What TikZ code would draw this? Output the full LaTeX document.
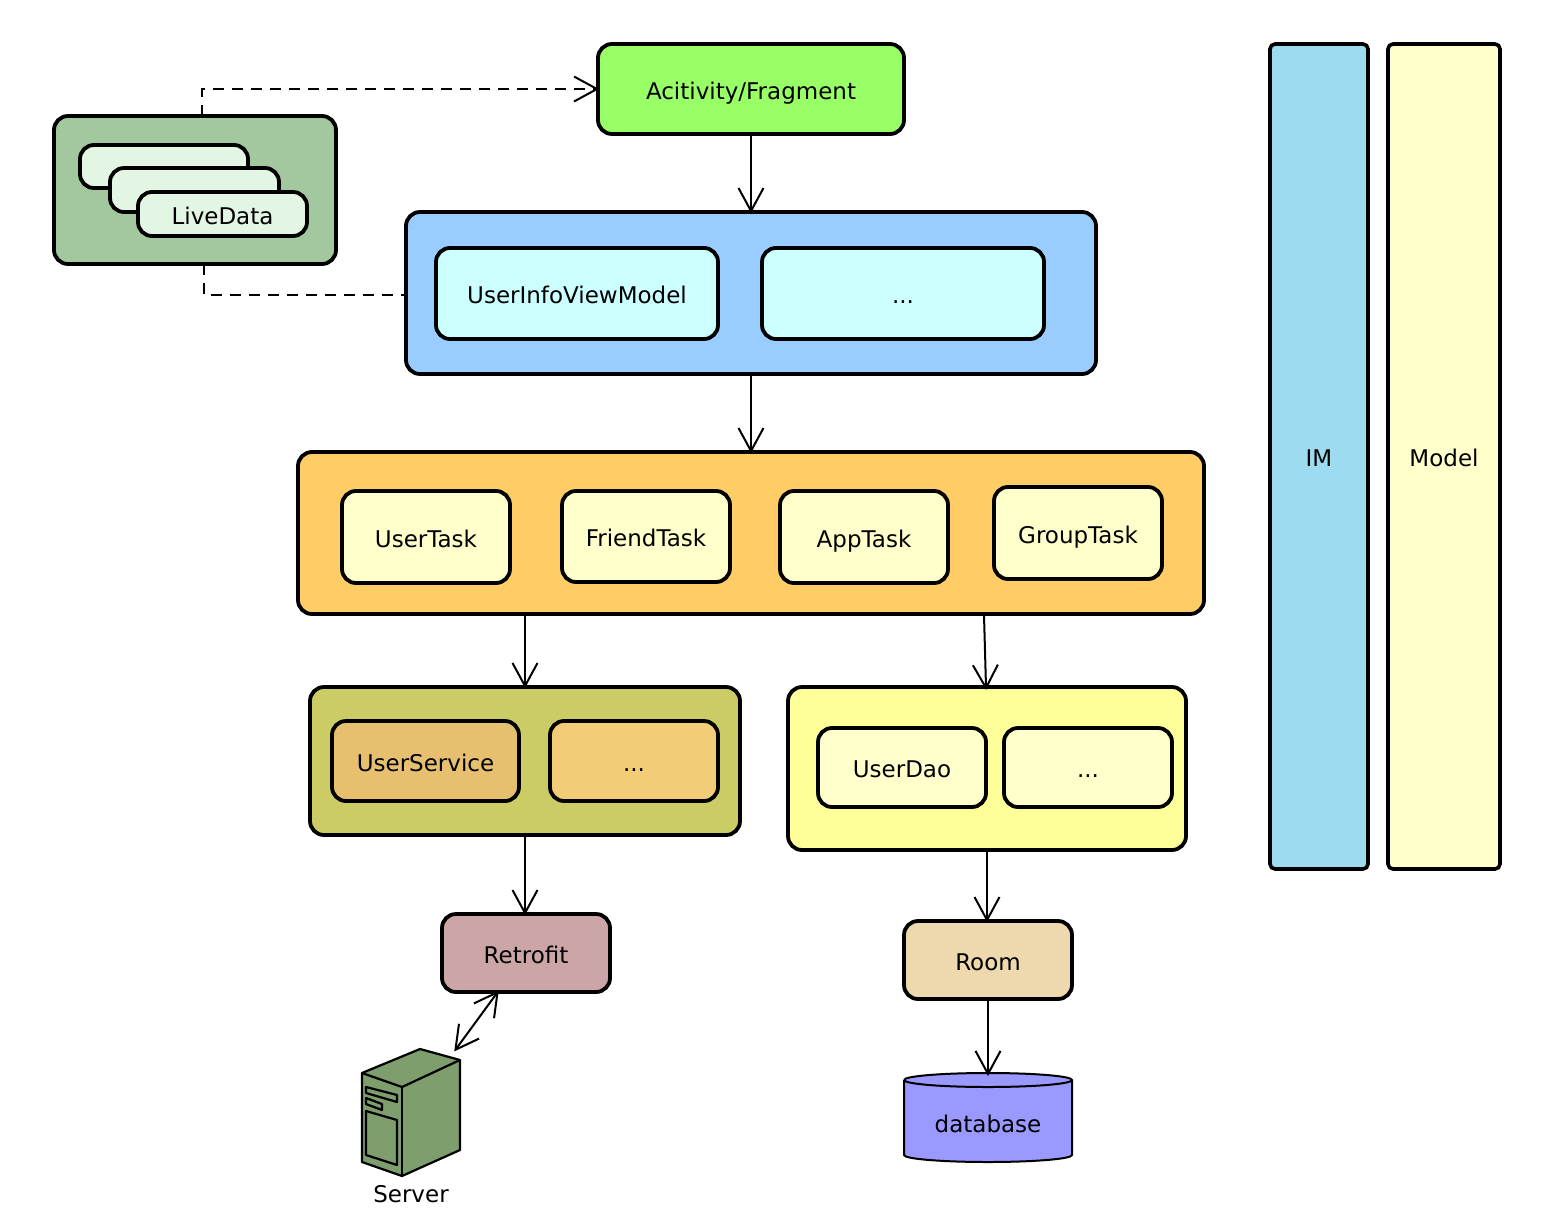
\documentclass[tikz,border=0pt]{standalone}
\usepackage{fontspec}
\setmainfont{DejaVu Sans}
\usetikzlibrary{arrows.meta,calc}
\definecolor{cAct}{HTML}{99FF66}
\definecolor{cLdO}{HTML}{A3C8A0}
\definecolor{cLdI}{HTML}{E3F5E3}
\definecolor{cVmO}{HTML}{99CCFF}
\definecolor{cVmI}{HTML}{CCFFFF}
\definecolor{cTask}{HTML}{FFCC66}
\definecolor{cPale}{HTML}{FFFFCC}
\definecolor{cSvcO}{HTML}{CCCC66}
\definecolor{cSvcA}{HTML}{E6C06F}
\definecolor{cSvcB}{HTML}{F3CC78}
\definecolor{cDao}{HTML}{FFFF99}
\definecolor{cRetro}{HTML}{CCA6A6}
\definecolor{cRoom}{HTML}{EED9AF}
\definecolor{cDb}{HTML}{9999FF}
\definecolor{cIm}{HTML}{9DDBF0}
\definecolor{cSrv}{HTML}{7E9E6E}
\newcommand{\lbl}{\fontsize{23}{27}\selectfont}
\tikzset{
  bx/.style={draw=black,line width=3.8pt,rounded corners=14pt,inner sep=0pt,font=\lbl,text=black,text height=23pt,text depth=3pt},
  bar/.style={draw=black,line width=3.6pt,rounded corners=5pt,inner sep=0pt,font=\lbl,text=black},
  conn/.style={draw=black,line width=2pt,shorten >=-3pt,-{Straight Barb[length=23pt,width=25pt,line width=2pt]}},
  conntwo/.style={draw=black,line width=2pt,shorten >=-3pt,shorten <=-3pt,{Straight Barb[length=23pt,width=25pt,line width=2pt]}-{Straight Barb[length=23pt,width=25pt,line width=2pt]}},
  dep/.style={draw=black,line width=2pt,dash pattern=on 11pt off 8pt},
  depa/.style={dep,shorten >=-3pt,-{Straight Barb[length=23pt,width=25pt,line width=2pt]}},
  srv/.style={draw=black,line width=2.2pt,line join=round},
}
% \pbox[style]{name}{x0}{y0}{x1}{y1}{fill}{text}
\newcommand{\pbox}[8][bx]{%
  \node[#1,fill=#7,minimum width={#5-#3},minimum height={#6-#4}] (#2) at ({(#3+#5)/2},{-(#4+#6)/2}) {#8};}
\begin{document}
\begin{tikzpicture}[x=1pt,y=1pt]
\useasboundingbox (0,0) rectangle (1544,-1218);
\pbox{act}{598}{44}{904}{134}{cAct}{Acitivity/Fragment}
\pbox{ld}{54}{116}{336}{264}{cLdO}{}
\pbox{ldA}{80}{145}{248}{188}{cLdI}{}
\pbox{ldB}{110}{168}{279}{212}{cLdI}{}
\pbox{ldC}{138}{192}{307}{236}{cLdI}{LiveData}
\pbox{vm}{406}{212}{1096}{374}{cVmO}{}
\pbox{uivm}{436}{248}{718}{339}{cVmI}{UserInfoViewModel}
\pbox{vmx}{762}{248}{1044}{339}{cVmI}{...}
\pbox{task}{298}{452}{1204}{614}{cTask}{}
\pbox{ut}{342}{491}{510}{583}{cPale}{UserTask}
\pbox{ft}{562}{491}{730}{582}{cPale}{FriendTask}
\pbox{at}{780}{491}{948}{583}{cPale}{AppTask}
\pbox{gt}{994}{487}{1162}{579}{cPale}{GroupTask}
\pbox{svc}{310}{687}{740}{835}{cSvcO}{}
\pbox{us}{332}{721}{519}{801}{cSvcA}{UserService}
\pbox{usx}{550}{721}{718}{801}{cSvcB}{...}
\pbox{dao}{788}{687}{1186}{850}{cDao}{}
\pbox{ud}{818}{728}{986}{807}{cPale}{UserDao}
\pbox{udx}{1004}{728}{1172}{807}{cPale}{...}
\pbox{retro}{442}{914}{610}{992}{cRetro}{Retrofit}
\pbox{room}{904}{921}{1072}{999}{cRoom}{Room}
\pbox[bar]{im}{1270}{44}{1368}{869}{cIm}{}
\pbox[bar]{model}{1388}{44}{1500}{869}{cPale}{}
\node[font=\lbl,inner sep=0pt] (imt) at (1319,-458) {IM};
\node[font=\lbl,inner sep=0pt] (modelt) at (1444,-458) {Model};
% database
\draw[draw=black,line width=2pt,fill=cDb] (904,-1080) -- (904,-1155) arc[start angle=180,end angle=360,x radius=84,y radius=7] -- (1072,-1080) arc[start angle=0,end angle=180,x radius=84,y radius=7];
\draw[draw=black,line width=2pt] (904,-1080) arc[start angle=180,end angle=360,x radius=84,y radius=7];
\node[font=\lbl,inner sep=0pt] (db) at (988,-1124) {database};
\coordinate (dbTop) at (988,-1073);
% server
\draw[srv,fill=cSrv] (362,-1073) -- (420,-1049) -- (460,-1060) -- (460,-1150) -- (402,-1176) -- (362,-1162) -- cycle;
\draw[srv] (362,-1073) -- (402,-1087) -- (460,-1060);
\draw[srv] (402,-1087) -- (402,-1176);
\draw[srv] (366,-1087) -- (397,-1095) -- (397,-1102) -- (366,-1093) -- cycle;
\draw[srv] (366,-1098) -- (382,-1104) -- (382,-1110) -- (366,-1104) -- cycle;
\draw[srv] (366,-1111) -- (397,-1120) -- (397,-1165) -- (366,-1155) -- cycle;
\node[font=\lbl,inner sep=0pt] (srvt) at (411,-1194) {Server};
\coordinate (srvTop) at (456,-1049);
\coordinate (retroB) at (497,-993);
% connectors
\draw[conn] (act.south) -- (act.south |- vm.north);
\draw[conn] (vm.south -| act.south) -- (act.south |- task.north);
\draw[conn] (svc.north |- task.south) -- (svc.north);
\coordinate (taskD) at (984,-615);
\coordinate (daoT) at (986,-687);
\draw[conn] (taskD) -- (daoT);
\draw[conn] (svc.south) -- (svc.south |- retro.north);
\draw[conn] (dao.south) -- (dao.south |- room.north);
\draw[conn] (room.south) -- (dbTop);
\draw[conntwo] (retroB) -- (srvTop);
\coordinate (ldT) at (202,-116);
\coordinate (ldB) at (204,-264);
\coordinate (vmW) at (406,-295);
\draw[depa] (ldT) |- (act.west);
\draw[dep] (ldB) |- (vmW);
\end{tikzpicture}
\end{document}
